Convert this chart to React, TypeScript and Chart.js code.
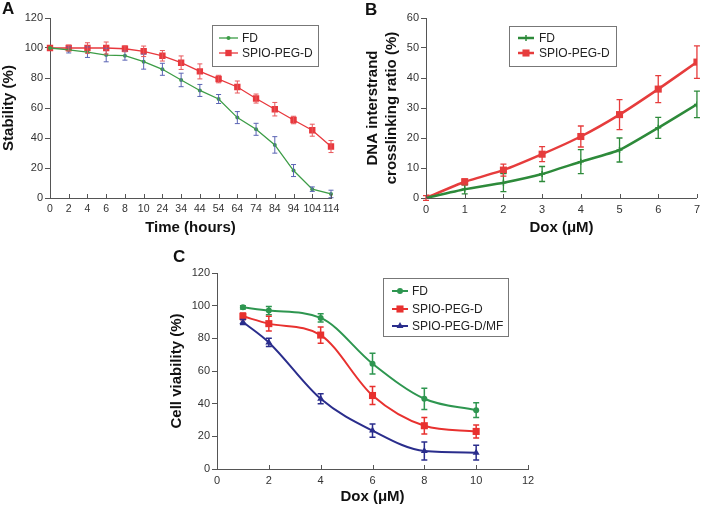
import React, { useEffect, useRef } from 'react';
import { Chart, registerables } from 'chart.js';

Chart.register(...registerables);

const FONT = '"Liberation Sans", Arial, Helvetica, sans-serif';

// ---------- Panel A data ----------
const TIME_LABELS = ['0', '2', '4', '6', '8', '10', '24', '34', '44', '54', '64', '74', '84', '94', '104', '114'];
const A_FD = [100, 98.7, 97.2, 95.3, 94.9, 90.9, 85.8, 78.7, 71.7, 66, 53.6, 45.8, 35.4, 18.3, 5.9, 2.7];
const A_FD_ERR = [0, 2, 3.5, 4.5, 3, 5, 4, 4.5, 4, 3, 4, 4, 5.5, 4, 1.5, 2.5];
const A_SPIO = [100, 100, 100, 100, 99.5, 97.8, 94.8, 90.2, 84.4, 79.3, 74, 66.3, 59.2, 52, 45.2, 34.3];
const A_SPIO_ERR = [0, 2, 3.5, 4, 2, 3.5, 3.5, 4.5, 5, 2.5, 4, 3, 4.5, 2.5, 4, 4];

// ---------- Panel B data ----------
const DOX_B = [0, 1, 2, 3, 4, 5, 6, 7];
const B_FD = [0, 2.9, 5.1, 8, 12.1, 16, 23.4, 31.2];
const B_FD_ERR = [0, 1.5, 3, 2.5, 4, 4, 3.5, 4.4];
const B_SPIO = [0, 5.4, 9.3, 14.6, 20.5, 27.8, 36.3, 45.3];
const B_SPIO_ERR = [0.8, 1, 2, 2.5, 3.5, 5, 4.5, 5.4];

// ---------- Panel C data ----------
const DOX_C = [1, 2, 4, 6, 8, 10];
const C_FD = [99, 97, 92.5, 64.5, 43, 36];
const C_FD_ERR = [1, 2.5, 2.5, 6.3, 6.5, 4.5];
const C_SPIO = [93.5, 89, 82, 45, 26.5, 23];
const C_SPIO_ERR = [2, 4.5, 5, 5.5, 5, 4];
const C_MF = [90, 77.5, 43, 23.5, 11, 10];
const C_MF_ERR = [1.5, 2.5, 3, 4, 5.5, 4.5];

const toXY = (xs: number[], ys: number[]) => xs.map((x, i) => ({ x, y: ys[i] }));

// ---------- plugins ----------
const errorBarsPlugin = {
  id: 'errorBars',
  afterDatasetsDraw(chart: any) {
    const ctx = chart.ctx;
    const yScale = chart.scales.y;
    chart.data.datasets.forEach((ds: any, di: number) => {
      const errs = ds.errors;
      if (!errs) return;
      const meta = chart.getDatasetMeta(di);
      ctx.save();
      ctx.strokeStyle = ds.errorColor || ds.borderColor;
      ctx.lineWidth = ds.errorWidth || 1;
      const cap = ds.capWidth || 3;
      meta.data.forEach((pt: any, i: number) => {
        const e = errs[i];
        if (!e) return;
        const v = ds.data[i];
        const val = typeof v === 'number' ? v : v.y;
        const y1 = yScale.getPixelForValue(val + e);
        const y2 = yScale.getPixelForValue(val - e);
        const x = pt.x;
        ctx.beginPath();
        ctx.moveTo(x, y1);
        ctx.lineTo(x, y2);
        ctx.moveTo(x - cap, y1);
        ctx.lineTo(x + cap, y1);
        ctx.moveTo(x - cap, y2);
        ctx.lineTo(x + cap, y2);
        ctx.stroke();
      });
      ctx.restore();
    });
  },
};

const innerTicksPlugin = {
  id: 'innerTicks',
  afterDraw(chart: any, _args: any, opts: any) {
    const s = chart.scales.x;
    const ctx = chart.ctx;
    ctx.save();
    ctx.strokeStyle = opts.color || '#555';
    ctx.lineWidth = 1;
    s.ticks.forEach((_t: any, i: number) => {
      const x = Math.round(s.getPixelForTick(i)) + 0.5;
      ctx.beginPath();
      ctx.moveTo(x, s.top);
      ctx.lineTo(x, s.top - (opts.length || 4));
      ctx.stroke();
    });
    ctx.restore();
  },
};

function drawMarker(ctx: any, style: string, x: number, y: number, r: number, color: string) {
  ctx.save();
  ctx.fillStyle = color;
  ctx.strokeStyle = color;
  ctx.beginPath();
  if (style === 'rect') {
    const s = r * Math.SQRT1_2;
    ctx.fillRect(x - s, y - s, 2 * s, 2 * s);
  } else if (style === 'triangle') {
    ctx.moveTo(x, y - r);
    ctx.lineTo(x + r * 0.866, y + r * 0.5);
    ctx.lineTo(x - r * 0.866, y + r * 0.5);
    ctx.closePath();
    ctx.fill();
  } else if (style === 'cross') {
    ctx.lineWidth = 1.5;
    ctx.moveTo(x, y - r);
    ctx.lineTo(x, y + r);
    ctx.moveTo(x - r, y);
    ctx.lineTo(x + r, y);
    ctx.stroke();
  } else {
    ctx.arc(x, y, r, 0, Math.PI * 2);
    ctx.fill();
  }
  ctx.restore();
}

const boxLegendPlugin = {
  id: 'boxLegend',
  afterDraw(chart: any, _args: any, o: any) {
    const ctx = chart.ctx;
    const [x0, y0, x1, y1] = o.box;
    ctx.save();
    ctx.strokeStyle = '#777';
    ctx.lineWidth = 1;
    ctx.strokeRect(x0 + 0.5, y0 + 0.5, x1 - x0, y1 - y0);
    chart.data.datasets.forEach((ds: any, i: number) => {
      const y = o.rows[i];
      ctx.strokeStyle = ds.borderColor;
      ctx.lineWidth = ds.borderWidth;
      ctx.beginPath();
      ctx.moveTo(o.line[0], y);
      ctx.lineTo(o.line[1], y);
      ctx.stroke();
      drawMarker(ctx, ds.pointStyle, (o.line[0] + o.line[1]) / 2, y, ds.pointRadius, ds.borderColor);
      ctx.fillStyle = '#222';
      ctx.font = `${o.fontSize}px ${FONT}`;
      ctx.textBaseline = 'middle';
      ctx.textAlign = 'left';
      ctx.fillText(ds.label, o.textX, y + 0.5);
    });
    ctx.restore();
  },
};

const panelLetterPlugin = {
  id: 'panelLetter',
  afterDraw(chart: any, _args: any, o: any) {
    const ctx = chart.ctx;
    ctx.save();
    ctx.fillStyle = '#111';
    ctx.font = `bold 17px ${FONT}`;
    ctx.textBaseline = 'top';
    ctx.textAlign = 'left';
    ctx.fillText(o.text, o.x, o.y);
    ctx.restore();
  },
};

// ---------- axis helpers ----------
function yAxis(min: number, max: number, step: number, title: any, width: number, lineHeight = 1.2) {
  return {
    type: 'linear',
    min,
    max,
    ticks: { stepSize: step, color: '#333', font: { family: FONT, size: 11 }, padding: 2 },
    grid: { drawOnChartArea: false, drawTicks: true, tickLength: 5, color: '#555' },
    border: { display: true, color: '#555', width: 1 },
    title: {
      display: true,
      text: title,
      color: '#111',
      font: { family: FONT, size: 15, weight: 'bold', lineHeight },
      padding: 0,
    },
    afterFit: (s: any) => {
      s.width = width;
    },
  };
}

function xAxisBase(title: string, height: number, tickSize = 11) {
  return {
    ticks: { color: '#333', font: { family: FONT, size: tickSize }, padding: 5, autoSkip: false, maxRotation: 0, minRotation: 0 },
    grid: { display: true, drawOnChartArea: false, drawTicks: false, color: '#555' },
    border: { display: true, color: '#555', width: 1 },
    title: {
      display: true,
      text: title,
      color: '#111',
      font: { family: FONT, size: 15, weight: 'bold', lineHeight: 1 },
      padding: 0,
    },
    afterFit: (s: any) => {
      s.height = height;
    },
  };
}

const basePlugins = [errorBarsPlugin, innerTicksPlugin, boxLegendPlugin, panelLetterPlugin];

function commonOptions() {
  return {
    responsive: false,
    maintainAspectRatio: false,
    devicePixelRatio: 1,
    animation: false,
    events: [],
  };
}

function configA(): any {
  return {
    type: 'line',
    data: {
      labels: TIME_LABELS,
      datasets: [
        {
          label: 'FD',
          data: A_FD,
          errors: A_FD_ERR,
          errorColor: '#5a64b4',
          capWidth: 2.5,
          borderColor: '#3c9c46',
          backgroundColor: '#3c9c46',
          borderWidth: 1.3,
          pointStyle: 'circle',
          pointRadius: 2,
          pointBackgroundColor: '#3c9c46',
          pointBorderWidth: 0,
          tension: 0,
        },
        {
          label: 'SPIO-PEG-D',
          data: A_SPIO,
          errors: A_SPIO_ERR,
          errorColor: '#e8585c',
          capWidth: 2.5,
          borderColor: '#e8383d',
          backgroundColor: '#e8383d',
          borderWidth: 1.3,
          pointStyle: 'rect',
          pointRadius: 4.5,
          pointBackgroundColor: '#e8383d',
          pointBorderWidth: 0,
          tension: 0,
        },
      ],
    },
    options: {
      ...commonOptions(),
      layout: { padding: { left: 0, top: 18, right: 374, bottom: 269.5 } },
      scales: {
        x: { type: 'category', offset: false, ...xAxisBase('Time (hours)', 37.5, 10.5) },
        y: yAxis(0, 120, 20, 'Stability (%)', 50),
      },
      plugins: {
        legend: { display: false },
        tooltip: { enabled: false },
        innerTicks: { color: '#555', length: 4 },
        boxLegend: { box: [212, 25, 318, 66], rows: [38, 53], line: [219, 238], textX: 242, fontSize: 12 },
        panelLetter: { text: 'A', x: 2, y: 1 },
      },
    },
    plugins: basePlugins,
  };
}

function configB(): any {
  return {
    type: 'line',
    data: {
      datasets: [
        {
          label: 'FD',
          data: toXY(DOX_B, B_FD),
          errors: B_FD_ERR,
          capWidth: 3,
          errorWidth: 1.3,
          borderColor: '#2d8a3a',
          backgroundColor: '#2d8a3a',
          borderWidth: 2.5,
          pointStyle: 'cross',
          pointRadius: 3,
          pointBorderColor: '#2d8a3a',
          pointBorderWidth: 1.5,
          tension: 0.15,
        },
        {
          label: 'SPIO-PEG-D',
          data: toXY(DOX_B, B_SPIO),
          errors: B_SPIO_ERR,
          capWidth: 3,
          errorWidth: 1.3,
          borderColor: '#e63c3c',
          backgroundColor: '#e63c3c',
          borderWidth: 2.5,
          pointStyle: 'rect',
          pointRadius: 5,
          pointBackgroundColor: '#e63c3c',
          pointBorderWidth: 0,
          tension: 0.15,
        },
      ],
    },
    options: {
      ...commonOptions(),
      layout: { padding: { left: 363.5, top: 18, right: 7, bottom: 269.5 } },
      scales: {
        x: {
          type: 'linear',
          min: 0,
          max: 7,
          ...xAxisBase('Dox (μM)', 37.5),
          ticks: { stepSize: 1, color: '#333', font: { family: FONT, size: 11 }, padding: 5, autoSkip: false, maxRotation: 0, minRotation: 0 },
        },
        y: yAxis(0, 60, 10, ['DNA interstrand', 'crosslinking ratio (%)'], 62.5, 1.27),
      },
      plugins: {
        legend: { display: false },
        tooltip: { enabled: false },
        innerTicks: { color: '#555', length: 4 },
        boxLegend: { box: [509, 26, 616, 66], rows: [38, 53], line: [518, 534], textX: 539, fontSize: 12 },
        panelLetter: { text: 'B', x: 365, y: 2 },
      },
    },
    plugins: basePlugins,
  };
}

function configC(): any {
  const common = { borderWidth: 2, cubicInterpolationMode: 'monotone', capWidth: 3, errorWidth: 1.5, pointBorderWidth: 0 };
  return {
    type: 'line',
    data: {
      datasets: [
        {
          ...common,
          label: 'FD',
          data: toXY(DOX_C, C_FD),
          errors: C_FD_ERR,
          borderColor: '#2e9650',
          backgroundColor: '#2e9650',
          pointStyle: 'circle',
          pointRadius: 3,
          pointBackgroundColor: '#2e9650',
        },
        {
          ...common,
          label: 'SPIO-PEG-D',
          data: toXY(DOX_C, C_SPIO),
          errors: C_SPIO_ERR,
          borderColor: '#e8312f',
          backgroundColor: '#e8312f',
          pointStyle: 'rect',
          pointRadius: 5,
          pointBackgroundColor: '#e8312f',
        },
        {
          ...common,
          label: 'SPIO-PEG-D/MF',
          data: toXY(DOX_C, C_MF),
          errors: C_MF_ERR,
          borderColor: '#2a2d8c',
          backgroundColor: '#2a2d8c',
          pointStyle: 'triangle',
          pointRadius: 4,
          pointBackgroundColor: '#2a2d8c',
        },
      ],
    },
    options: {
      ...commonOptions(),
      layout: { padding: { left: 168, top: 273, right: 177, bottom: 0.5 } },
      scales: {
        x: {
          type: 'linear',
          min: 0,
          max: 12,
          ...xAxisBase('Dox (μM)', 35.5),
          ticks: { stepSize: 2, color: '#333', font: { family: FONT, size: 11 }, padding: 5, autoSkip: false, maxRotation: 0, minRotation: 0 },
        },
        y: yAxis(0, 120, 20, 'Cell viability (%)', 49),
      },
      plugins: {
        legend: { display: false },
        tooltip: { enabled: false },
        innerTicks: { color: '#555', length: 4 },
        boxLegend: { box: [383, 278, 508, 336], rows: [291, 309, 326], line: [392, 408], textX: 412, fontSize: 12 },
        panelLetter: { text: 'C', x: 173, y: 249 },
      },
    },
    plugins: basePlugins,
  };
}

export default function App() {
  const aRef = useRef<HTMLCanvasElement>(null);
  const bRef = useRef<HTMLCanvasElement>(null);
  const cRef = useRef<HTMLCanvasElement>(null);

  useEffect(() => {
    const charts: Chart[] = [];
    if (aRef.current) charts.push(new Chart(aRef.current, configA()));
    if (bRef.current) charts.push(new Chart(bRef.current, configB()));
    if (cRef.current) charts.push(new Chart(cRef.current, configC()));
    return () => charts.forEach((c) => c.destroy());
  }, []);

  const st: React.CSSProperties = { position: 'absolute', left: 0, top: 0, width: 705, height: 505 };
  return (
    <div style={{ position: 'absolute', left: 0, top: 0, width: 705, height: 505, background: '#fff', overflow: 'hidden' }}>
      <canvas ref={aRef} width={705} height={505} style={st} />
      <canvas ref={bRef} width={705} height={505} style={st} />
      <canvas ref={cRef} width={705} height={505} style={st} />
    </div>
  );
}
